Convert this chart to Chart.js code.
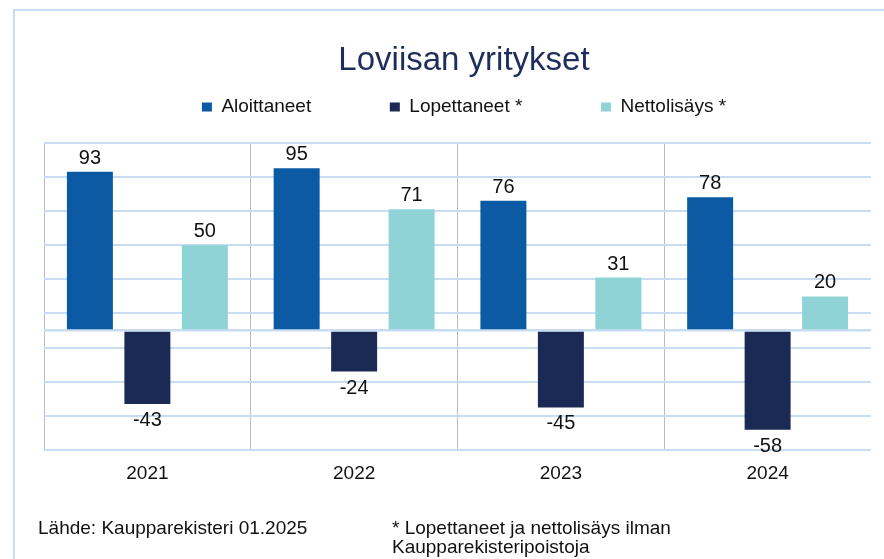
<!DOCTYPE html>
<html>
<head>
<meta charset="utf-8">
<script src="https://cdn.jsdelivr.net/npm/chart.js@4/dist/chart.umd.min.js"></script>
<style>
  html, body { margin:0; padding:0; width:884px; height:559px; overflow:hidden; background:#fff; }
  #frame { position:absolute; left:13px; top:9px; width:900px; height:600px; border:2px solid #c9ddf2; box-sizing:border-box; }
  #c { position:absolute; left:0; top:0; }
  .note { position:absolute; font-family:"Liberation Sans", Arial, sans-serif; font-size:19px; color:#111; line-height:19px; white-space:nowrap; }
</style>
</head>
<body>
<div id="frame"></div>
<canvas id="c" width="884" height="559"></canvas>
<div class="note" id="src" style="left:38px; top:518px;">Lähde: Kaupparekisteri 01.2025</div>
<div class="note" id="fn" style="left:392px; top:518px;">* Lopettaneet ja nettolisäys ilman<br>Kaupparekisteripoistoja</div>
<script>
const titleText = 'Loviisan yritykset';
const categories = ['2021', '2022', '2023', '2024'];
const seriesNames = ['Aloittaneet', 'Lopettaneet *', 'Nettolisäys *'];
const aloittaneet = [93, 95, 76, 78];
const lopettaneet = [-43, -24, -45, -58];
const nettolisays = [50, 71, 31, 20];
const seriesColors = ['#0b5aa3', '#1a2a54', '#8fd3d6'];

const FONT = '"Liberation Sans", Arial, sans-serif';

const valueLabels = {
  id: 'valueLabels',
  afterDatasetsDraw(chart) {
    const ctx = chart.ctx;
    ctx.save();
    ctx.font = '20px ' + FONT;
    ctx.fillStyle = '#111';
    ctx.textAlign = 'center';
    ctx.textBaseline = 'alphabetic';
    chart.data.datasets.forEach((ds, di) => {
      const meta = chart.getDatasetMeta(di);
      meta.data.forEach((bar, i) => {
        const v = ds.data[i];
        const y = v >= 0 ? bar.y - 8 : bar.y + 22;
        ctx.fillText(String(v), bar.x, y);
      });
    });
    ctx.restore();
  }
};

const spacer = '             ';

new Chart(document.getElementById('c'), {
  type: 'bar',
  data: {
    labels: categories,
    datasets: [
      { label: seriesNames[0], data: aloittaneet, backgroundColor: seriesColors[0], xAxisID: 'x', yAxisID: 'y' },
      { label: seriesNames[1], data: lopettaneet, backgroundColor: seriesColors[1], xAxisID: 'x', yAxisID: 'y' },
      { label: seriesNames[2], data: nettolisays, backgroundColor: seriesColors[2], xAxisID: 'x', yAxisID: 'y' }
    ]
  },
  options: {
    responsive: false,
    animation: false,
    devicePixelRatio: 1,
    layout: { padding: { top: 41, left: 44, right: 0, bottom: 62 } },
    datasets: { bar: { categoryPercentage: 0.834, barPercentage: 0.8 } },
    plugins: {
      title: {
        display: true,
        text: titleText,
        color: '#1f2d5c',
        font: { family: FONT, size: 33, weight: 'normal' },
        padding: { top: 0, bottom: 7 }
      },
      legend: {
        display: true,
        position: 'top',
        labels: {
          boxWidth: 10,
          boxHeight: 9,
          padding: 10,
          color: '#111',
          font: { family: FONT, size: 19 },
          generateLabels(chart) {
            const items = Chart.defaults.plugins.legend.labels.generateLabels(chart);
            items.forEach((it, i) => {
              it.lineWidth = 0;
              if (i < items.length - 1) it.text = it.text + spacer;
            });
            return items;
          }
        }
      },
      tooltip: { enabled: false }
    },
    scales: {
      x: {
        type: 'category',
        position: 'bottom',
        border: { display: false },
        grid: {
          offset: true,
          drawTicks: false,
          lineWidth: 1,
          color: (c) => c.type === 'tick' ? '#bcbcbc' : 'rgba(0,0,0,0)'
        },
        ticks: { color: '#111', font: { family: FONT, size: 19 }, padding: 12 }
      },
      y: {
        type: 'linear',
        position: 'left',
        min: -70,
        max: 110,
        border: { display: false },
        afterBuildTicks(scale) {
          scale.ticks.push({ value: 0 });
          scale.ticks.sort((a, b) => a.value - b.value);
        },
        ticks: { display: false, stepSize: 20 },
        grid: {
          drawTicks: false,
          color: '#c9ddf2',
          lineWidth: (c) => (c.tick && c.tick.value === 0) ? 2.5 : 2
        }
      },
      xTop: {
        type: 'linear',
        position: 'top',
        display: true,
        border: { display: false },
        grid: { display: false },
        ticks: { display: false },
        afterFit(scale) { scale.height = 16; }
      },
      yRight: {
        type: 'linear',
        position: 'right',
        display: true,
        border: { display: false },
        grid: { display: false },
        ticks: { display: false },
        afterFit(scale) { scale.width = 13; }
      }
    }
  },
  plugins: [valueLabels]
});
</script>
</body>
</html>
